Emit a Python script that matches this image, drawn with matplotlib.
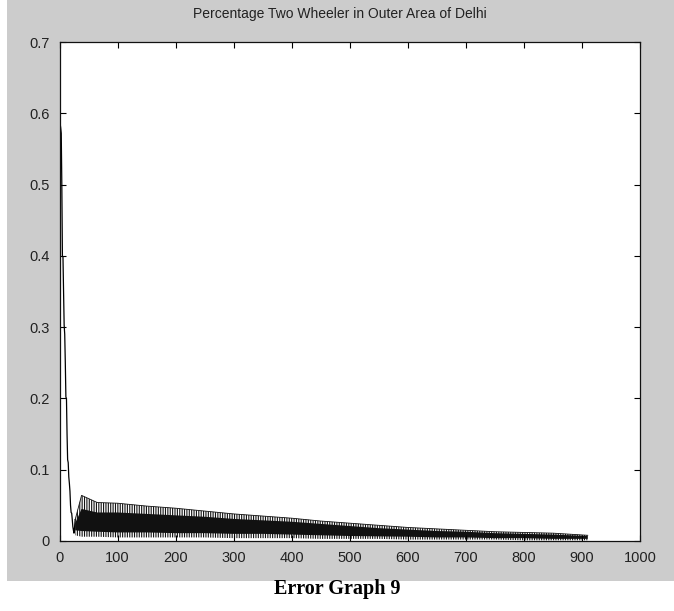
import matplotlib
matplotlib.use("Agg")
import matplotlib.pyplot as plt
from matplotlib.patches import Rectangle

# initial fast decay
head_x = [1, 2, 3, 4, 5, 6, 7, 8, 9, 10, 11, 12, 13, 14, 15, 16, 17, 18, 19, 20, 21, 22, 23, 24, 25, 26, 27]
head_y = [0.586, 0.58, 0.572, 0.50, 0.40, 0.398, 0.35, 0.303, 0.29, 0.25, 0.202, 0.20, 0.15, 0.114,
          0.11, 0.09, 0.081, 0.07, 0.05, 0.04, 0.039, 0.03, 0.02, 0.015, 0.011, 0.02, 0.03]

# oscillating part: envelopes estimated at a few x positions
env_x = [27, 38, 65, 100, 150, 200, 250, 300, 350, 400, 450, 500, 550, 600, 650, 700, 750, 800, 850, 910]
upper = [0.030, 0.064, 0.054, 0.053, 0.049, 0.046, 0.042, 0.038, 0.035, 0.032, 0.028, 0.025,
         0.022, 0.019, 0.017, 0.015, 0.013, 0.012, 0.011, 0.008]
core_top = [0.025, 0.045, 0.040, 0.040, 0.038, 0.036, 0.034, 0.031, 0.029, 0.027, 0.024, 0.021,
            0.018, 0.016, 0.014, 0.013, 0.011, 0.010, 0.009, 0.007]
core_bot = [0.015, 0.014, 0.013, 0.012, 0.012, 0.011, 0.011, 0.010, 0.010, 0.009, 0.008, 0.007,
            0.0065, 0.006, 0.005, 0.005, 0.004, 0.004, 0.003, 0.003]
lower = [0.008, 0.006, 0.006, 0.005, 0.005, 0.005, 0.005, 0.004, 0.004, 0.004, 0.003, 0.003,
         0.003, 0.002, 0.002, 0.002, 0.002, 0.001, 0.001, 0.001]

xticks = [0, 100, 200, 300, 400, 500, 600, 700, 800, 900, 1000]
yticks = [0, 0.1, 0.2, 0.3, 0.4, 0.5, 0.6, 0.7]
ylabels = ["0", "0.1", "0.2", "0.3", "0.4", "0.5", "0.6", "0.7"]

plt.rcParams['font.family'] = ['Liberation Sans', 'DejaVu Sans']
plt.rcParams['hatch.linewidth'] = 0.8

W, H = 674, 611
fig = plt.figure(figsize=(W / 100, H / 100), dpi=100, facecolor='white')
fig.patches.append(Rectangle((7 / W, 30 / H), 667 / W, 581 / H, transform=fig.transFigure,
                             facecolor='#cccccc', edgecolor='none', zorder=-5))

ax = fig.add_axes([59.5 / W, 1 - 541 / H, 580.5 / W, 499 / H])
ax.set_zorder(1)
ax.set_facecolor('white')

ax.plot(head_x, head_y, color='black', lw=0.9)
ax.fill_between(env_x, lower, upper, facecolor='white', edgecolor='#111111',
                hatch='|' * 7, linewidth=0)
ax.fill_between(env_x, core_bot, core_top, facecolor='#111111', edgecolor='none')
ax.plot(env_x, upper, color='#111111', lw=0.6)

ax.set_xlim(0, 1000)
ax.set_ylim(0, 0.7)
ax.set_xticks(xticks)
ax.set_xticklabels([str(v) for v in xticks])
ax.set_yticks(yticks)
ax.set_yticklabels(ylabels)
ax.tick_params(direction='in', length=4, width=0.8, top=True, right=True,
               labelsize=10.5, colors='black', pad=7)
ax.tick_params(labelcolor='#222222')
for s in ax.spines.values():
    s.set_linewidth(0.9)
    s.set_color('#111111')

fig.text(340 / W, 1 - 14 / H, "Percentage Two Wheeler in Outer Area of Delhi",
         ha='center', va='center', fontsize=10, color='#222222')
fig.text(337 / W, 1 - 589 / H, "Error Graph 9", ha='center', va='center',
         fontsize=14.5, fontweight='bold', family='Liberation Serif')

fig.savefig('out.png', dpi=100, facecolor='white')
